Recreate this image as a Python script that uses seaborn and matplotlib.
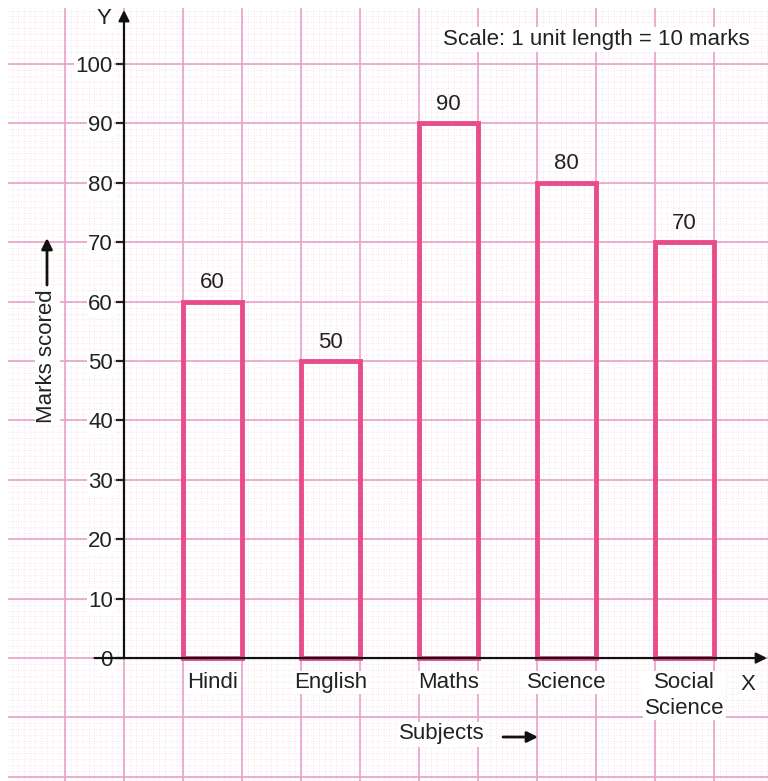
import matplotlib
matplotlib.use("Agg")
import matplotlib.pyplot as plt
import numpy as np
import seaborn as sns

# data
subjects = ["Hindi", "English", "Maths", "Science", "Social Science"]
tick_labels = ["Hindi", "English", "Maths", "Science", "Social\nScience"]
marks = [60, 50, 90, 80, 70]
y_ticks = list(range(0, 101, 10))

bar_pink = "#ea4b8b"
grid_major = "#eaa0c8"
grid_minor = "#f7dbe8"
text_col = "#222222"
fs = 16

sns.set_theme(style="white")
plt.rcParams["font.family"] = ["Liberation Sans", "DejaVu Sans"]

fig = plt.figure(figsize=(7.68, 7.81), dpi=100)
ax = fig.add_axes([8 / 768, 0, 760 / 768, 773 / 781])

# limits chosen so one grid unit (10 marks) is the bar width
x_lo, x_hi = -1.733, 4.708
y_lo, y_hi = -20.7, 109.43
y_axis_x = -0.75

# graph paper: fine dotted lines every 1/10 unit, solid lines every unit
minor_x = np.arange(y_axis_x - 2.0, x_hi, 0.05)
minor_y = np.arange(-30, 115, 1.0)
ax.vlines(minor_x, y_lo, y_hi, colors=grid_minor, lw=0.6, ls=(0, (1, 2)), zorder=0)
ax.hlines(minor_y, x_lo, x_hi, colors=grid_minor, lw=0.6, ls=(0, (1, 2)), zorder=0)
major_x = np.arange(y_axis_x - 1.0, x_hi, 0.5)
major_y = np.arange(-20, 115, 10)
ax.vlines(major_x, y_lo, y_hi, colors=grid_major, lw=1.2, zorder=0.5)
ax.hlines(major_y, x_lo, x_hi, colors=grid_major, lw=1.2, zorder=0.5)

sns.barplot(
    x=subjects,
    y=marks,
    width=0.5,
    fill=False,
    color=bar_pink,
    linewidth=3.5,
    ax=ax,
    zorder=2,
)
for p in ax.patches:
    p.set_edgecolor(bar_pink)

ax.bar_label(ax.containers[0], padding=6, fontsize=fs, color=text_col)

ax.set_xlim(x_lo, x_hi)
ax.set_ylim(y_lo, y_hi)

# move the axes to the graph origin
ax.spines["left"].set_position(("data", y_axis_x))
ax.spines["bottom"].set_position(("data", 0))
for side in ["left", "bottom", "top", "right"]:
    ax.spines[side].set_color("none")

ax.set_yticks(y_ticks)
ax.set_yticklabels([str(t) for t in y_ticks])
ax.tick_params(axis="y", length=6, width=1.6, pad=2, labelsize=fs,
               colors=text_col, left=True, direction="out")
ax.set_xticks(range(len(subjects)))
ax.set_xticklabels(tick_labels, linespacing=1.3)
ax.tick_params(axis="x", length=0, pad=10, labelsize=fs, colors=text_col)
for lbl in ax.get_yticklabels() + ax.get_xticklabels():
    lbl.set_bbox(dict(facecolor="white", edgecolor="none", pad=1))
ax.set_xlabel("")
ax.set_ylabel("")

# axis lines with arrow heads
ax.annotate("", xy=(y_axis_x, 109.1), xytext=(y_axis_x, 0),
            arrowprops=dict(arrowstyle="-|>", lw=1.6, color="#111111",
                            mutation_scale=16, shrinkA=0, shrinkB=0), zorder=5)
ax.annotate("", xy=(4.70, 0), xytext=(-1.0, 0),
            arrowprops=dict(arrowstyle="-|>", lw=1.6, color="#111111",
                            mutation_scale=16, shrinkA=0, shrinkB=0), zorder=5)

white_box = dict(facecolor="white", edgecolor="none", pad=1.5)
fig.text(104 / 768, 1 - 19 / 781, "Y", fontsize=fs, color=text_col,
         ha="center", va="center", bbox=white_box)
fig.text(748 / 768, 1 - 684 / 781, "X", fontsize=fs, color=text_col,
         ha="center", va="center", bbox=white_box)
fig.text(596 / 768, 1 - 39 / 781, "Scale: 1 unit length = 10 marks",
         fontsize=fs, color=text_col, ha="center", va="center", bbox=white_box)

# axis titles with their arrows
fig.text(442 / 768, 1 - 734 / 781, "Subjects", fontsize=fs, color=text_col,
         ha="center", va="center", bbox=white_box)
fig.text(47 / 768, 1 - 356 / 781, "Marks scored", fontsize=fs, color=text_col,
         rotation=90, ha="center", va="center", bbox=white_box)
arrow_kw = dict(arrowstyle="-|>", lw=2, color="#111111", mutation_scale=16,
                shrinkA=0, shrinkB=0)
ax.annotate("", xy=(538 / 768, 1 - 737 / 781), xytext=(503 / 768, 1 - 737 / 781),
            xycoords="figure fraction", textcoords="figure fraction",
            arrowprops=arrow_kw)
ax.annotate("", xy=(47 / 768, 1 - 238 / 781), xytext=(47 / 768, 1 - 285 / 781),
            xycoords="figure fraction", textcoords="figure fraction",
            arrowprops=arrow_kw)

fig.savefig("out.png", dpi=100, facecolor="white")
